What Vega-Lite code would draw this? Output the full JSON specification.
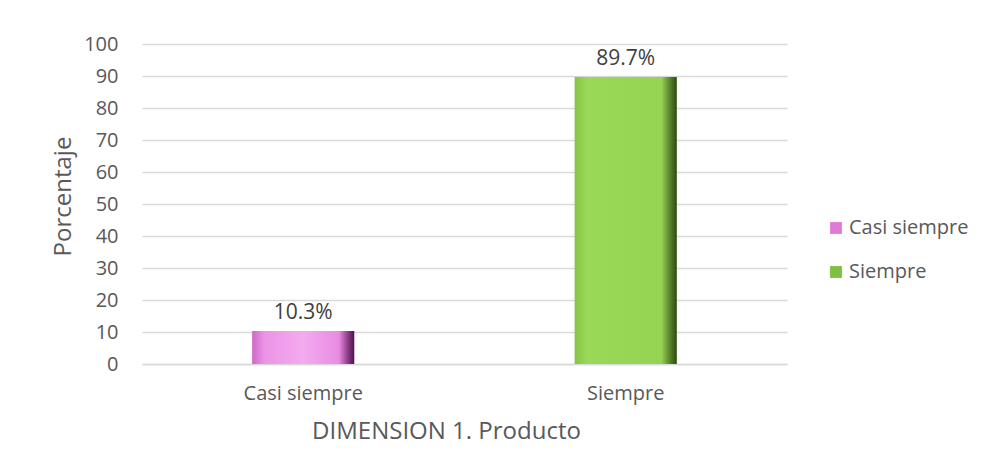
{
  "$schema": "https://vega.github.io/schema/vega-lite/v6.json",
  "width": 645,
  "height": 320,
  "autosize": {"type": "none"},
  "padding": {"left": 142, "top": 44, "right": 197, "bottom": 109},
  "background": "white",
  "config": {"view": {"stroke": null}, "font": "Open Sans"},
  "data": {"values": [
    {"cat": "Casi siempre", "pct": 10.3, "label": "10.3%"},
    {"cat": "Siempre", "pct": 89.7, "label": "89.7%"}
  ]},
  "encoding": {
    "x": {"field": "cat", "type": "nominal", "sort": null,
      "scale": {"paddingInner": 0, "paddingOuter": 0},
      "axis": {"title": "DIMENSION 1. Producto", "titleFontSize": 24, "titleFontWeight": "normal", "titleColor": "#595959", "titlePadding": 16,
        "titleX": 304, "titleAlign": "center",
        "labelAngle": 0, "labelFontSize": 20, "labelColor": "#595959", "labelPadding": 19,
        "ticks": false, "domain": true, "domainColor": "#d9d9d9", "domainWidth": 1.5}},
    "y": {"field": "pct", "type": "quantitative", "scale": {"domain": [0, 100]},
      "axis": {"title": "Porcentaje", "titleFontSize": 24, "titleFontWeight": "normal", "titleColor": "#595959", "titlePadding": 8,
        "titleY": 152, "titleAlign": "center",
        "values": [0, 10, 20, 30, 40, 50, 60, 70, 80, 90, 100],
        "labelFontSize": 20, "labelColor": "#595959", "labelPadding": 24,
        "ticks": false, "domain": false, "grid": true, "gridColor": "#d9d9d9", "gridWidth": 1.5}}
  },
  "layer": [
    {"mark": {"type": "bar", "width": {"band": 0.316}},
     "encoding": {"fill": {"field": "cat", "type": "nominal", "sort": null,
       "scale": {"range": ["#e07ad8", "#7fbf3f"]},
       "legend": {"orient": "none", "legendX": 684, "legendY": 174, "title": null,
         "symbolType": "square", "symbolSize": 140, "symbolStrokeWidth": 0,
         "labelFontSize": 20, "labelColor": "#595959", "rowPadding": 24, "labelOffset": 3}}}},
    {"mark": {"type": "bar", "width": {"band": 0.316}},
     "encoding": {"fill": {
       "condition": {"test": "datum.cat === 'Siempre'", "value": {"gradient": "linear", "x1": 0, "x2": 1, "y1": 0, "y2": 0,
         "stops": [{"offset": 0, "color": "#86c446"}, {"offset": 0.12, "color": "#9ad858"}, {"offset": 0.85, "color": "#95d352"}, {"offset": 0.92, "color": "#608f30"}, {"offset": 1, "color": "#2e4a14"}]}},
       "value": {"gradient": "linear", "x1": 0, "x2": 1, "y1": 0, "y2": 0,
         "stops": [{"offset": 0, "color": "#d06ac8"}, {"offset": 0.12, "color": "#ec94e6"}, {"offset": 0.5, "color": "#f4aaef"}, {"offset": 0.85, "color": "#e88ce2"}, {"offset": 0.92, "color": "#a04a9a"}, {"offset": 1, "color": "#4a1446"}]}}}},
    {"mark": {"type": "text", "baseline": "bottom", "dy": -8, "fontSize": 21, "color": "#404040"},
     "encoding": {"text": {"field": "label", "type": "nominal"}}}
  ]
}
